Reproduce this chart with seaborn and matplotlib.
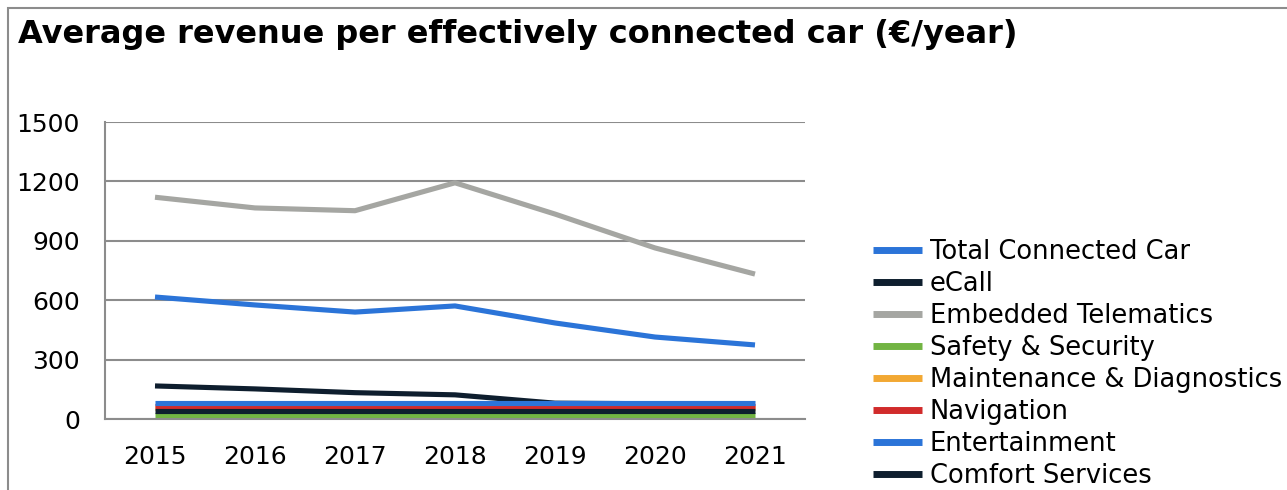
import numpy as np
import pandas as pd
import matplotlib
matplotlib.use("Agg")
import matplotlib.pyplot as plt
import seaborn as sns
from matplotlib.patches import Rectangle
from matplotlib.lines import Line2D

# ---- data ----
years = ["2015", "2016", "2017", "2018", "2019", "2020", "2021"]
series_names = ["Total Connected Car", "eCall", "Embedded Telematics", "Safety & Security",
                "Maintenance & Diagnostics", "Navigation", "Entertainment", "Comfort Services"]
total_connected = [616, 576, 540, 571, 485, 414, 374]
ecall = [167, 152, 133, 122, 80, 77, 74]
embedded_telematics = [1120, 1066, 1052, 1193, 1035, 864, 732]
safety_security = [20, 20, 20, 20, 20, 20, 20]
maintenance = [54, 54, 54, 54, 54, 54, 54]
navigation = [66, 66, 66, 66, 66, 66, 66]
entertainment = [82, 82, 82, 82, 82, 82, 82]
comfort = [40, 40, 40, 40, 40, 40, 40]

colors = ["#2B74D8", "#0E1E2E", "#A5A6A2", "#72B443", "#F2A833", "#D12B2B", "#2B74D8", "#0E1E2E"]

values = [total_connected, ecall, embedded_telematics, safety_security,
          maintenance, navigation, entertainment, comfort]
rows = []
for name, vals in zip(series_names, values):
    for i, v in enumerate(vals):
        rows.append({"pos": i, "year": years[i], "series": name, "value": v})
df = pd.DataFrame(rows)

# ---- figure ----
sns.set_style("white")
plt.rcParams["font.family"] = ["DejaVu Sans"]
plt.rcParams["text.color"] = "black"
plt.rcParams["xtick.color"] = "black"
plt.rcParams["ytick.color"] = "black"
fig = plt.figure(figsize=(12.87, 4.90), dpi=100)
W, H = 1287, 490
ax = fig.add_axes([105 / W, 1 - 419 / H, 700 / W, 297 / H])

sns.lineplot(data=df, x="pos", y="value", hue="series", hue_order=series_names,
             palette=colors, linewidth=3.7, ax=ax, legend=False, sort=False)
for ln in ax.lines:
    ln.set_solid_capstyle("butt")
    ln.set_solid_joinstyle("round")

ax.set_xlim(-0.5, 6.5)
ax.set_ylim(0, 1500)
ax.set_yticks([0, 300, 600, 900, 1200, 1500])
ax.set_yticklabels(["0", "300", "600", "900", "1200", "1500"], fontsize=18)
ax.set_xticks(np.arange(-0.5, 7, 1))
ax.set_xticklabels([])
ax.set_xticks(np.arange(7), minor=True)
ax.set_xticklabels(years, minor=True, fontsize=18)
ax.tick_params(axis="x", which="minor", length=0, pad=19)
ax.tick_params(axis="x", which="major", length=8, color="#8C8C8C", width=1.5)
ax.tick_params(axis="y", length=8, color="#8C8C8C", width=1.5, pad=10)
ax.set_xlabel("")
ax.set_ylabel("")
ax.grid(axis="y", color="#8C8C8C", linewidth=1.5)
ax.set_axisbelow(True)
for s in ["top", "right"]:
    ax.spines[s].set_visible(False)
for s in ["left", "bottom"]:
    ax.spines[s].set_color("#8C8C8C")
    ax.spines[s].set_linewidth(1.5)

# legend
handles = [Line2D([0], [0], color=c, linewidth=5, solid_capstyle="butt") for c in colors]
fig.legend(handles, series_names, loc="upper left", bbox_to_anchor=(873 / W, 1 - 239 / H),
           frameon=False, fontsize=18.5, handlelength=1.9, handletextpad=0.3,
           labelspacing=0.235, borderaxespad=0, borderpad=0)

# title
fig.text(18 / W, 1 - 43 / H, "Average revenue per effectively connected car (\u20ac/year)",
         fontsize=23, fontweight="bold", va="baseline", ha="left")

# outer border (chart area frame)
fig.patches.append(Rectangle((8 / W, -0.1), 1.2, 1 - 8 / H + 0.1, transform=fig.transFigure,
                             fill=False, edgecolor="#8C8C8C", linewidth=1.5))

fig.savefig("out.png", dpi=100)
